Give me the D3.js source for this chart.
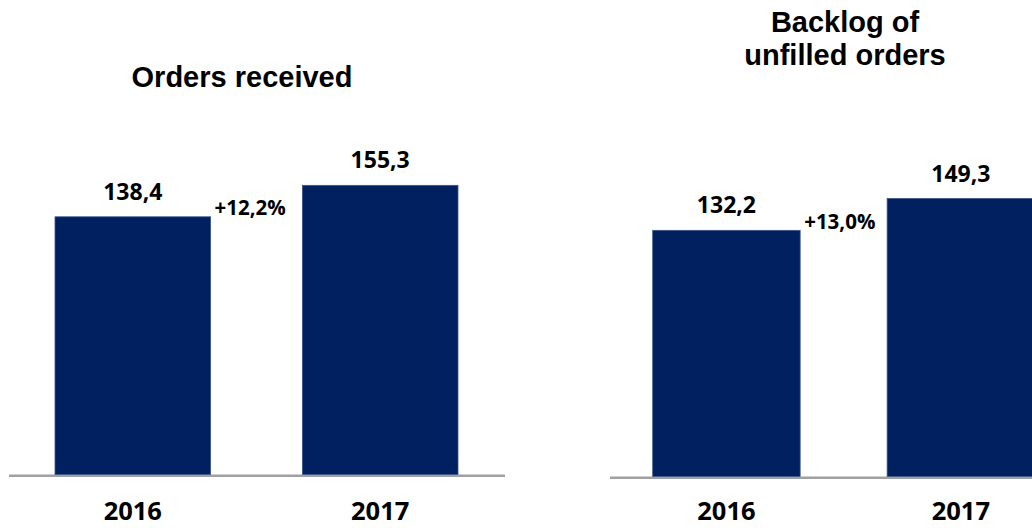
<!DOCTYPE html>
<html>
<head>
<meta charset="utf-8">
<script src="https://cdn.jsdelivr.net/npm/d3@7"></script>
<style>
  html, body { margin: 0; padding: 0; background: #ffffff; }
  svg { display: block; }
</style>
</head>
<body>
<svg id="chart" width="1032" height="528"></svg>
<script>
// ---- data ----
const years = ["2016", "2017"];
const ordersReceived = [138.4, 155.3];
const backlog = [132.2, 149.3];
const ordersLabels = ["138,4", "155,3"];
const backlogLabels = ["132,2", "149,3"];
const ordersChange = "+12,2%";
const backlogChange = "+13,0%";
const titleOrders = ["Orders received"];
const titleBacklog = ["Backlog of", "unfilled orders"];

// ---- styles ----
const BAR = "#002060";
const AXIS = "#a0a0a0";
const numFont = "'Open Sans', 'Noto Sans', sans-serif";
const titleFont = "'Liberation Sans', Arial, sans-serif";

const svg = d3.select("#chart");

function panel(cfg) {
  const g = svg.append("g");
  const x = d3.scaleBand().domain(years).range(cfg.xRange).paddingInner(0.371).paddingOuter(0);
  const y = d3.scaleLinear().domain([0, 160]).range([cfg.base, cfg.base - 160 * 1.862]);

  // axis line
  g.append("line")
    .attr("x1", cfg.axisX[0]).attr("x2", cfg.axisX[1])
    .attr("y1", cfg.base + 1.2).attr("y2", cfg.base + 1.2)
    .attr("stroke", AXIS).attr("stroke-width", 2.4);

  // bars
  g.selectAll("rect.bar").data(cfg.values).join("rect")
    .attr("class", "bar")
    .attr("x", (d, i) => x(years[i]))
    .attr("width", x.bandwidth())
    .attr("y", d => y(d))
    .attr("height", d => y(0) - y(d))
    .attr("fill", BAR)
    .attr("stroke", "#3a5587").attr("stroke-width", 0.8);

  // value labels
  g.selectAll("text.val").data(cfg.labels).join("text")
    .attr("class", "val")
    .attr("x", (d, i) => x(years[i]) + x.bandwidth() / 2)
    .attr("y", (d, i) => y(cfg.values[i]) - 17)
    .attr("text-anchor", "middle")
    .attr("font-family", numFont).attr("font-weight", 700)
    .attr("font-size", 23).attr("fill", "#000")
    .text(d => d);

  // change label
  g.append("text")
    .attr("x", x(years[0]) + x.bandwidth() + 4)
    .attr("y", y(cfg.values[0]) - 1.5)
    .attr("font-family", numFont).attr("font-weight", 700)
    .attr("font-size", 20.5).attr("fill", "#000")
    .text(cfg.change);

  // year labels
  g.selectAll("text.yr").data(years).join("text")
    .attr("class", "yr")
    .attr("x", d => x(d) + x.bandwidth() / 2)
    .attr("y", 520)
    .attr("text-anchor", "middle")
    .attr("font-family", numFont).attr("font-weight", 700)
    .attr("font-size", 25.5).attr("fill", "#000")
    .text(d => d);

  // title
  g.selectAll("text.title").data(cfg.title).join("text")
    .attr("class", "title")
    .attr("x", cfg.titleX)
    .attr("y", (d, i) => cfg.titleY + i * 33)
    .attr("text-anchor", "middle")
    .attr("font-family", titleFont).attr("font-weight", 700)
    .attr("font-size", 29).attr("fill", "#000")
    .text(d => d);
}

panel({
  values: ordersReceived, labels: ordersLabels, change: ordersChange,
  xRange: [55, 458], base: 474.5, axisX: [9, 505],
  title: titleOrders, titleX: 242, titleY: 86.5
});

panel({
  values: backlog, labels: backlogLabels, change: backlogChange,
  xRange: [652.7, 1034.6], base: 476.5, axisX: [610, 1032],
  title: titleBacklog, titleX: 845, titleY: 32
});
</script>
</body>
</html>
